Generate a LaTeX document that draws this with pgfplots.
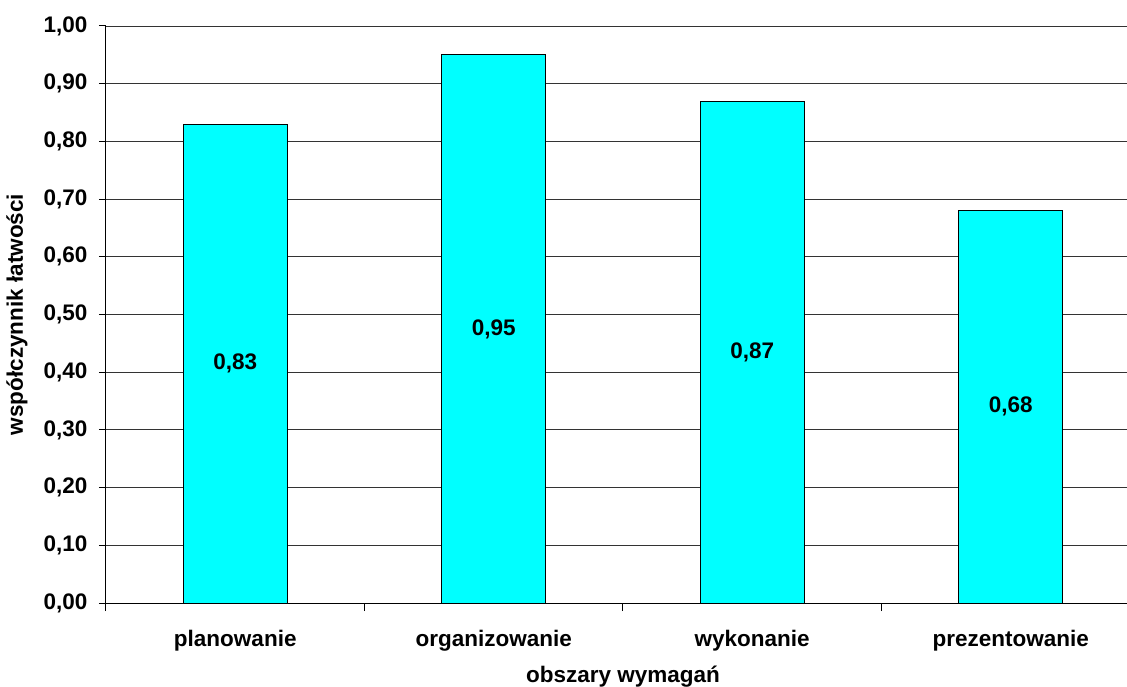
\documentclass[border=0pt]{standalone}
\usepackage{fontspec}
\setmainfont{Liberation Sans}
\usepackage{pgfplots}
\pgfplotsset{compat=1.18}
\definecolor{barcyan}{RGB}{0,255,255}
\newcommand{\chfont}{\bfseries\fontsize{22.5}{26}\selectfont}
\begin{document}
\begin{tikzpicture}
\begin{axis}[
  scale only axis,
  width=1021pt, height=577pt,
  xmin=-0.5, xmax=3.45,
  ymin=0, ymax=1,
  axis x line*=bottom, axis y line*=left,
  axis line style={-, line width=1pt, black},
  ytick={0,0.1,...,1.0},
  ymajorgrids,
  major grid style={black!80, line width=0.9pt},
  xtick={0,1,2,3},
  xticklabels={planowanie,organizowanie,wykonanie,prezentowanie},
  minor xtick={-0.5,0.5,1.5,2.5},
  major x tick style={draw=none},
  tick align=outside,
  major tick length=7pt, minor tick length=8pt,
  tick style={black, line width=1pt},
  ticklabel style={font=\chfont},
  /pgf/number format/assume math mode=true,
  yticklabel style={xshift=-8pt, /pgf/number format/.cd, fixed, fixed zerofill, precision=2, use comma},
  xticklabel style={anchor=base, yshift=-36pt},
  xlabel={obszary wymagań},
  ylabel={współczynnik łatwości},
  label style={font=\chfont},
  xlabel style={at={(axis description cs:0,0)}, anchor=base, xshift=517pt, yshift=-79pt},
  ylabel style={at={(axis description cs:0,0.5)}, anchor=center, rotate=0, yshift=89pt},
]
\addplot[ybar, bar width=104pt, fill=barcyan, draw=black, line width=1pt] coordinates {
  (0,0.83) (1,0.95) (2,0.87) (3,0.68)
};
\addplot[draw=none, nodes near coords, point meta=explicit symbolic,
  nodes near coords align={center},
  every node near coord/.append style={font=\chfont, anchor=center}]
  coordinates {
  (0,0.415)[0,83] (1,0.475)[0,95] (2,0.435)[0,87] (3,0.34)[0,68]
};
\end{axis}
\pgfresetboundingbox
\path ([shift={(-106pt,-83pt)}]current axis.south west) rectangle ++(1127pt,686pt);
\end{tikzpicture}
\end{document}
